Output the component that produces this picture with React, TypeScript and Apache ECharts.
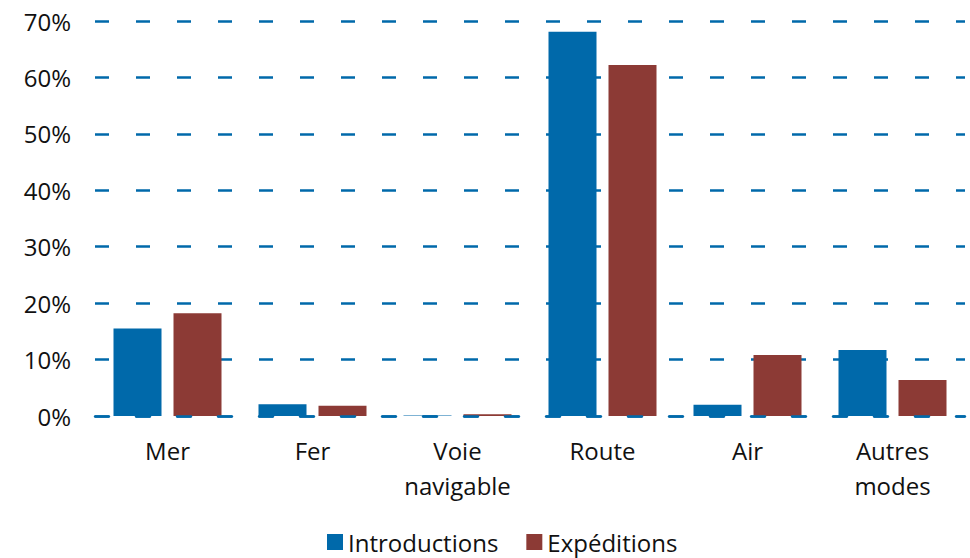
import React, { useEffect, useRef } from "react";
import * as echarts from "echarts";

const categories = ["Mer", "Fer", "Voie\nnavigable", "Route", "Air", "Autres\nmodes"];
const introductions = [15.5, 2.1, 0.1, 68.1, 2.0, 11.7];
const expeditions = [18.2, 1.8, 0.3, 62.2, 10.8, 6.4];
const seriesNames = ["Introductions", "Expéditions"];
const yTicks = { min: 0, max: 70, interval: 10 };

const BLUE = "#0069AA";
const RED = "#8C3A35";
const FONT = "'Open Sans', sans-serif";

export default function App() {
  const ref = useRef<HTMLDivElement>(null);
  useEffect(() => {
    if (!ref.current) return;
    const chart = echarts.init(ref.current, undefined, { renderer: "svg" });
    const dash = { type: [14, 27] as any, width: 2.5, color: BLUE };
    chart.setOption({
      animation: false,
      textStyle: { fontFamily: FONT },
      grid: { left: 95, right: 5, top: 21, bottom: 142, containLabel: false },
      legend: {
        left: 327,
        top: 530,
        padding: 0,
        itemWidth: 16,
        itemHeight: 16,
        itemGap: 28,
        icon: "rect",
        textStyle: { fontFamily: FONT, fontSize: 24, lineHeight: 24, color: "#111" },
        data: seriesNames,
      },
      xAxis: {
        type: "category",
        data: categories,
        z: 10,
        axisTick: { show: false },
        axisLine: { show: true, lineStyle: dash },
        axisLabel: {
          margin: 17,
          fontFamily: FONT,
          fontSize: 24,
          color: "#111",
          lineHeight: 35,
          interval: 0,
        },
      },
      yAxis: {
        type: "value",
        min: yTicks.min,
        max: yTicks.max,
        interval: yTicks.interval,
        axisLine: { show: false },
        axisTick: { show: false },
        axisLabel: {
          margin: 24,
          fontFamily: FONT,
          fontSize: 24,
          color: "#111",
          formatter: "{value}%",
        },
        splitLine: { show: true, lineStyle: dash },
      },
      series: [
        {
          name: seriesNames[0],
          type: "bar",
          data: introductions,
          barWidth: 48,
          barGap: "25%",
          itemStyle: { color: BLUE },
        },
        {
          name: seriesNames[1],
          type: "bar",
          data: expeditions,
          barWidth: 48,
          barGap: "25%",
          itemStyle: { color: RED },
        },
      ],
    });
    return () => chart.dispose();
  }, []);
  return (
    <div
      ref={ref}
      style={{ position: "fixed", left: 0, top: 0, width: 970, height: 558, background: "#fff" }}
    />
  );
}
